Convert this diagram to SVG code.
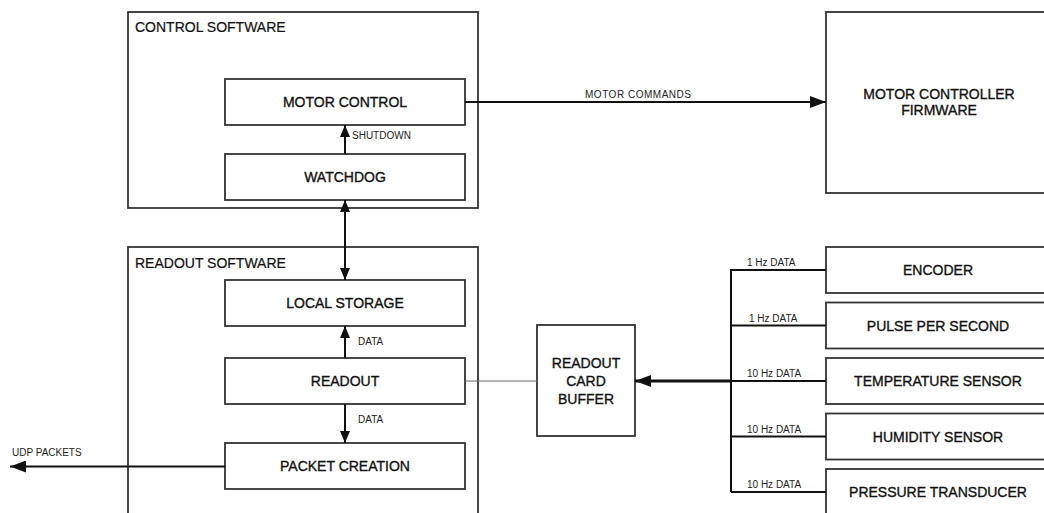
<svg xmlns="http://www.w3.org/2000/svg" width="1044" height="513" viewBox="0 0 1044 513">
<defs>
<style>
.box{fill:#fff;stroke:#333;stroke-width:1.8}
.lbl{font-family:"Liberation Sans",Arial,sans-serif;font-size:14px;fill:#111;stroke:#111;stroke-width:0.35;text-anchor:middle}
.title{font-family:"Liberation Sans",Arial,sans-serif;font-size:14px;fill:#111;stroke:#111;stroke-width:0.2}
.small{font-family:"Liberation Sans",Arial,sans-serif;font-size:10px;fill:#222}
.conn{stroke:#111;stroke-width:2;fill:none}
</style>
<marker id="ah" viewBox="0 0 12 10" refX="12" refY="5" markerWidth="12" markerHeight="10" markerUnits="userSpaceOnUse" orient="auto-start-reverse">
<path d="M0,0 L12,5 L0,10 Z" fill="#111"/>
</marker>
<marker id="ahb" viewBox="0 0 16 12" refX="16" refY="6" markerWidth="16" markerHeight="12" markerUnits="userSpaceOnUse" orient="auto">
<path d="M0,0 L16,6 L0,12 Z" fill="#111"/>
</marker>
</defs>
<rect width="1044" height="513" fill="#fff"/>

<g id="control-software">
<rect class="box" x="128" y="12" width="350" height="196"/>
<text class="title" x="135" y="32">CONTROL SOFTWARE</text>
</g>
<g id="readout-software">
<rect class="box" x="128" y="247" width="350" height="290"/>
<text class="title" x="135" y="268">READOUT SOFTWARE</text>
</g>
<g id="motor-control">
<rect class="box" x="225" y="79" width="240" height="46"/>
<text class="lbl" x="345" y="107">MOTOR CONTROL</text>
</g>
<g id="watchdog">
<rect class="box" x="225" y="154" width="240" height="46"/>
<text class="lbl" x="345" y="182">WATCHDOG</text>
</g>
<g id="local-storage">
<rect class="box" x="225" y="280" width="240" height="46"/>
<text class="lbl" x="345" y="308">LOCAL STORAGE</text>
</g>
<g id="readout">
<rect class="box" x="225" y="358" width="240" height="46"/>
<text class="lbl" x="345" y="386">READOUT</text>
</g>
<g id="packet-creation">
<rect class="box" x="225" y="443" width="240" height="46"/>
<text class="lbl" x="345" y="471">PACKET CREATION</text>
</g>
<g id="motor-controller-firmware">
<rect class="box" x="826" y="12" width="240" height="181"/>
<text class="lbl" x="939" y="99">MOTOR CONTROLLER</text>
<text class="lbl" x="939" y="115">FIRMWARE</text>
</g>
<g id="readout-card-buffer">
<rect class="box" x="537" y="325" width="98" height="111"/>
<text class="lbl" x="586" y="368">READOUT</text>
<text class="lbl" x="586" y="386">CARD</text>
<text class="lbl" x="586" y="404">BUFFER</text>
</g>
<g id="encoder">
<rect class="box" x="826" y="247" width="240" height="46"/>
<text class="lbl" x="938" y="275">ENCODER</text>
</g>
<g id="pulse-per-second">
<rect class="box" x="826" y="302.5" width="240" height="46"/>
<text class="lbl" x="938" y="330.5">PULSE PER SECOND</text>
</g>
<g id="temperature-sensor">
<rect class="box" x="826" y="358" width="240" height="46"/>
<text class="lbl" x="938" y="386">TEMPERATURE SENSOR</text>
</g>
<g id="humidity-sensor">
<rect class="box" x="826" y="413.5" width="240" height="46"/>
<text class="lbl" x="938" y="441.5">HUMIDITY SENSOR</text>
</g>
<g id="pressure-transducer">
<rect class="box" x="826" y="469" width="240" height="60"/>
<text class="lbl" x="938" y="497">PRESSURE TRANSDUCER</text>
</g>

<g id="connectors">
<line class="conn" x1="465" y1="102" x2="826" y2="102" marker-end="url(#ahb)"/>
<text class="small" x="585" y="98" textLength="106">MOTOR COMMANDS</text>
<line class="conn" x1="345" y1="154" x2="345" y2="125" marker-end="url(#ah)"/>
<text class="small" x="352" y="139">SHUTDOWN</text>
<line class="conn" x1="345" y1="200" x2="345" y2="280" marker-start="url(#ah)" marker-end="url(#ah)"/>
<line class="conn" x1="345" y1="358" x2="345" y2="326" marker-end="url(#ah)"/>
<text class="small" x="358" y="345">DATA</text>
<line class="conn" x1="345" y1="404" x2="345" y2="443" marker-end="url(#ah)"/>
<text class="small" x="358" y="423">DATA</text>
<line class="conn" x1="225" y1="466.5" x2="10" y2="466.5" marker-end="url(#ahb)"/>
<text class="small" x="12" y="456">UDP PACKETS</text>
<line x1="465" y1="381" x2="537" y2="381" stroke="#666" stroke-width="1"/>
<line x1="731" y1="381" x2="635" y2="381" stroke="#111" stroke-width="3" marker-end="url(#ahb)"/>
<path class="conn" d="M731,269 V492 M731,270 H826 M731,325.5 H826 M731,381 H826 M731,436.5 H826 M731,492 H826"/>
<text class="small" x="747" y="266">1 Hz DATA</text>
<text class="small" x="749" y="321.5">1 Hz DATA</text>
<text class="small" x="747" y="376.5">10 Hz DATA</text>
<text class="small" x="747" y="432.5">10 Hz DATA</text>
<text class="small" x="747" y="488">10 Hz DATA</text>
</g>
</svg>
